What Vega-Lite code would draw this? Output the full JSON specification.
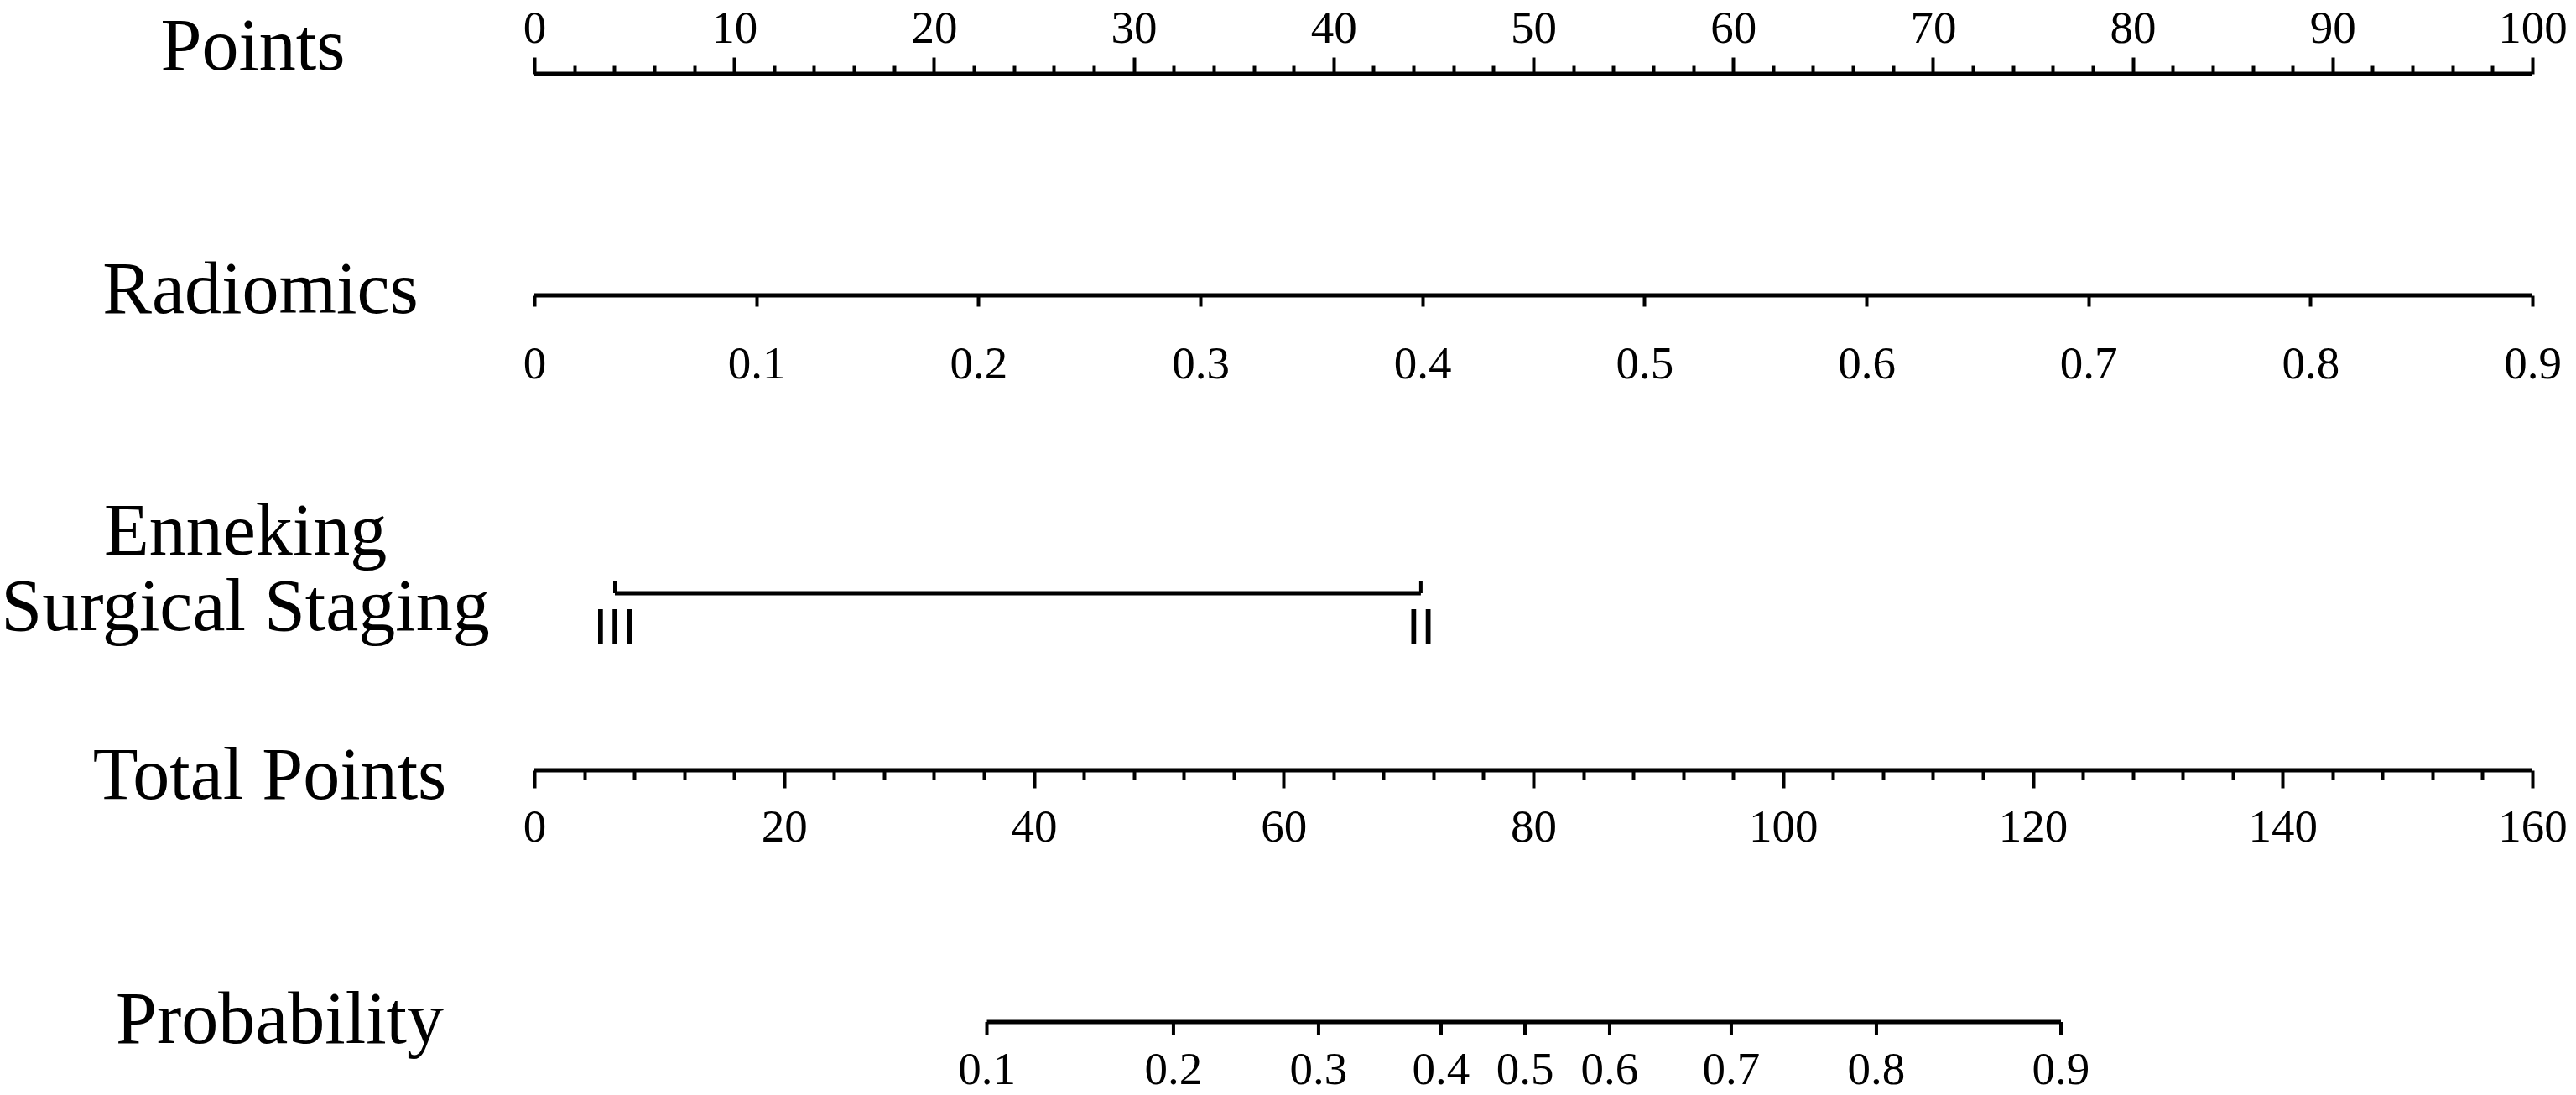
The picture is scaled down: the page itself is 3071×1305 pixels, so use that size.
{
  "$schema": "https://vega.github.io/schema/vega-lite/v6.json",
  "padding": {"top": 6, "left": 0, "right": 0, "bottom": 0},
  "background": "white",
  "spacing": 0,
  "bounds": "flush",
  "config": {
    "view": {"stroke": null},
    "font": "Liberation Serif",
    "axis": {"domainColor": "black", "tickColor": "black", "labelColor": "black", "labelFont": "Liberation Serif", "grid": false}
  },
  "vconcat": [
    {
      "width": 2382,
      "height": 1,
      "data": {"values": [{"var": "Points", "lo": 0, "hi": 100}]},
      "mark": {"type": "rule", "strokeWidth": 5, "color": "black"},
      "encoding": {
        "x": {
          "field": "lo", "type": "quantitative",
          "scale": {"domain": [0, 100], "nice": false, "zero": false},
          "axis": {
            "orient": "top", "title": null, "domain": false,
            "values": [0,2,4,6,8,10,12,14,16,18,20,22,24,26,28,30,32,34,36,38,40,42,44,46,48,50,52,54,56,58,60,62,64,66,68,70,72,74,76,78,80,82,84,86,88,90,92,94,96,98,100],
            "tickSize": {"condition": {"test": "datum.value % 10 === 0", "value": 20}, "value": 10},
            "tickWidth": 4,
            "labelExpr": "datum.value % 10 === 0 ? datum.label : ''",
            "labelFontSize": 55, "labelPadding": 18, "labelBaseline": "alphabetic",
            "labelFlush": false, "labelOverlap": false, "labelBound": false
          }
        },
        "x2": {"field": "hi"},
        "y": {
          "field": "var", "type": "nominal",
          "scale": {"type": "point", "padding": 0, "align": 0},
          "axis": {"title": null, "domain": false, "ticks": false, "tickSize": 0, "labelFontSize": 88, "labelAlign": "center", "labelBaseline": "alphabetic", "labelPadding": 336, "labelOffset": -6, "labelLimit": 3000}
        }
      }
    },
    {
      "width": 2382,
      "height": 263,
      "data": {"values": [{"var": "Radiomics", "lo": 0, "hi": 0.9}]},
      "mark": {"type": "rule", "strokeWidth": 5, "color": "black"},
      "encoding": {
        "x": {
          "field": "lo", "type": "quantitative",
          "scale": {"domain": [0, 0.9], "nice": false, "zero": false},
          "axis": {
            "orient": "bottom", "title": null, "domain": false,
            "values": [0, 0.1, 0.2, 0.3, 0.4, 0.5, 0.6, 0.7, 0.8, 0.9],
            "format": ".1~f",
            "tickSize": 13, "tickWidth": 4,
            "labelFontSize": 55, "labelPadding": 85, "labelBaseline": "alphabetic",
            "labelFlush": false, "labelOverlap": false, "labelBound": false
          }
        },
        "x2": {"field": "hi"},
        "y": {
          "field": "var", "type": "nominal",
          "scale": {"type": "point", "padding": 0, "align": 1},
          "axis": {"title": null, "domain": false, "ticks": false, "tickSize": 0, "labelFontSize": 88, "labelAlign": "center", "labelBaseline": "alphabetic", "labelPadding": 327, "labelOffset": 20, "labelLimit": 3000}
        }
      }
    },
    {
      "width": 2382,
      "height": 355,
      "data": {"values": [
        {"var": "Enneking\nSurgical Staging", "stage": "III", "pts": 4.03},
        {"var": "Enneking\nSurgical Staging", "stage": "II", "pts": 44.37}
      ]},
      "encoding": {
        "y": {
          "field": "var", "type": "nominal",
          "scale": {"type": "point", "padding": 0, "align": 1},
          "axis": {"title": null, "domain": false, "ticks": false, "tickSize": 0, "labelFontSize": 88, "labelAlign": "center", "labelBaseline": "alphabetic", "labelPadding": 345, "labelOffset": -47, "labelLineHeight": 90, "labelExpr": "split(datum.label, '\\n')", "labelLimit": 3000}
        }
      },
      "layer": [
        {
          "mark": {"type": "rule", "strokeWidth": 5, "color": "black"},
          "encoding": {
            "x": {"aggregate": "min", "field": "pts", "type": "quantitative", "scale": {"domain": [0, 100], "nice": false, "zero": false}, "axis": null},
            "x2": {"aggregate": "max", "field": "pts"}
          }
        },
        {
          "mark": {"type": "tick", "size": 15, "thickness": 4, "yOffset": -7.5, "color": "black", "opacity": 1},
          "encoding": {
            "x": {"field": "pts", "type": "quantitative"}
          }
        },
        {
          "mark": {"type": "text", "font": "Liberation Sans", "fontSize": 62, "baseline": "alphabetic", "align": "center", "dy": 61, "color": "black"},
          "encoding": {
            "x": {"field": "pts", "type": "quantitative"},
            "text": {"field": "stage"}
          }
        }
      ]
    },
    {
      "width": 2382,
      "height": 211,
      "data": {"values": [{"var": "Total Points", "lo": 0, "hi": 160}]},
      "mark": {"type": "rule", "strokeWidth": 5, "color": "black"},
      "encoding": {
        "x": {
          "field": "lo", "type": "quantitative",
          "scale": {"domain": [0, 160], "nice": false, "zero": false},
          "axis": {
            "orient": "bottom", "title": null, "domain": false,
            "values": [0,4,8,12,16,20,24,28,32,36,40,44,48,52,56,60,64,68,72,76,80,84,88,92,96,100,104,108,112,116,120,124,128,132,136,140,144,148,152,156,160],
            "tickSize": {"condition": {"test": "datum.value % 20 === 0", "value": 21}, "value": 11},
            "tickWidth": 4,
            "labelExpr": "datum.value % 20 === 0 ? datum.label : ''",
            "labelFontSize": 55, "labelPadding": 63, "labelBaseline": "alphabetic",
            "labelFlush": false, "labelOverlap": false, "labelBound": false
          }
        },
        "x2": {"field": "hi"},
        "y": {
          "field": "var", "type": "nominal",
          "scale": {"type": "point", "padding": 0, "align": 1},
          "axis": {"title": null, "domain": false, "ticks": false, "tickSize": 0, "labelFontSize": 88, "labelAlign": "center", "labelBaseline": "alphabetic", "labelPadding": 316, "labelOffset": 33, "labelLimit": 3000}
        }
      }
    },
    {
      "width": 2382,
      "height": 300,
      "data": {"values": [
        {"var": "Probability", "p": 0.1, "total": 36.24},
        {"var": "Probability", "p": 0.2, "total": 51.18},
        {"var": "Probability", "p": 0.3, "total": 62.8},
        {"var": "Probability", "p": 0.4, "total": 72.61},
        {"var": "Probability", "p": 0.5, "total": 79.33},
        {"var": "Probability", "p": 0.6, "total": 86.11},
        {"var": "Probability", "p": 0.7, "total": 95.85},
        {"var": "Probability", "p": 0.8, "total": 107.47},
        {"var": "Probability", "p": 0.9, "total": 122.25}
      ]},
      "encoding": {
        "y": {
          "field": "var", "type": "nominal",
          "scale": {"type": "point", "padding": 0, "align": 1},
          "axis": {"title": null, "domain": false, "ticks": false, "tickSize": 0, "labelFontSize": 88, "labelAlign": "center", "labelBaseline": "alphabetic", "labelPadding": 304, "labelOffset": 24, "labelLimit": 3000}
        }
      },
      "layer": [
        {
          "mark": {"type": "rule", "strokeWidth": 5, "color": "black"},
          "encoding": {
            "x": {"aggregate": "min", "field": "total", "type": "quantitative", "scale": {"domain": [0, 160], "nice": false, "zero": false}, "axis": null},
            "x2": {"aggregate": "max", "field": "total"}
          }
        },
        {
          "mark": {"type": "tick", "size": 15, "thickness": 4, "yOffset": 7.5, "color": "black", "opacity": 1},
          "encoding": {
            "x": {"field": "total", "type": "quantitative"}
          }
        },
        {
          "mark": {"type": "text", "fontSize": 55, "baseline": "alphabetic", "align": "center", "dy": 74, "color": "black"},
          "encoding": {
            "x": {"field": "total", "type": "quantitative"},
            "text": {"field": "p", "type": "quantitative", "format": ".1f"}
          }
        }
      ]
    }
  ]
}
